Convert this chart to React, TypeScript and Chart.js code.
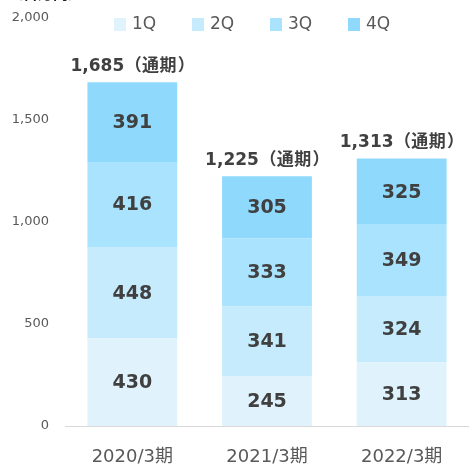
import React, { useEffect, useRef } from "react";
import { Chart, registerables } from "chart.js";

Chart.register(...registerables);

const categories = ["2020/3期", "2021/3期", "2022/3期"];
const seriesNames = ["1Q", "2Q", "3Q", "4Q"];
const q1 = [430, 245, 313];
const q2 = [448, 341, 324];
const q3 = [416, 333, 349];
const q4 = [391, 305, 325];
const totals = [1685, 1225, 1313];
const totalSuffix = "（通期）";
const unitLabel = "（百万円）";
const yTicks = [0, 500, 1000, 1500, 2000];

const colors = ["#E0F3FD", "#C6EBFD", "#A9E3FD", "#8FD9FD"];
const FONT = "'DejaVu Sans', 'Noto Sans CJK JP', sans-serif";
const CJK = "'Noto Sans CJK JP', sans-serif";

const fmt = (v: number) => v.toLocaleString("en-US");

const labelPlugin = {
  id: "labels",
  afterDatasetsDraw(chart: any) {
    const ctx = chart.ctx;
    ctx.save();
    ctx.fillStyle = "#404040";
    ctx.textAlign = "center";
    ctx.textBaseline = "middle";
    ctx.font = `bold 19px ${FONT}`;
    chart.data.datasets.forEach((ds: any, di: number) => {
      const meta = chart.getDatasetMeta(di);
      meta.data.forEach((bar: any, i: number) => {
        const y = (bar.y + bar.base) / 2;
        ctx.fillText(fmt(ds.data[i]), bar.x, y + 1);
      });
    });
    const yScale = chart.scales.y;
    const last = chart.getDatasetMeta(chart.data.datasets.length - 1);
    ctx.textBaseline = "alphabetic";
    const cell = 17.5;
    totals.forEach((t, i) => {
      const x = last.data[i].x;
      const base = yScale.getPixelForValue(t) - 11;
      ctx.font = `bold 17px ${FONT}`;
      const num = fmt(t);
      const w1 = ctx.measureText(num).width;
      const chars = Array.from(totalSuffix);
      const w2 = chars.length * cell;
      const start = x - (w1 + w2) / 2;
      ctx.textAlign = "left";
      ctx.fillText(num, start, base);
      ctx.font = `bold 17px ${CJK}`;
      chars.forEach((c, k) => {
        let cx = start + w1 + k * cell + cell / 2;
        if (c === "（") { ctx.textAlign = "right"; cx = start + w1 + (k + 1) * cell; }
        else if (c === "）") { ctx.textAlign = "left"; cx = start + w1 + k * cell + 1; }
        else ctx.textAlign = "center";
        ctx.fillText(c, cx, base);
      });
    });
    ctx.restore();
  },
  afterDraw(chart: any) {
    const ctx = chart.ctx;
    ctx.save();
    ctx.font = `17px ${FONT}`;
    ctx.textBaseline = "middle";
    ctx.textAlign = "left";
    const startX = 114;
    const step = 78;
    const cy = 24;
    seriesNames.forEach((n, i) => {
      const x = startX + i * step;
      ctx.fillStyle = colors[i];
      ctx.fillRect(x, cy - 6, 12, 13);
      ctx.fillStyle = "#595959";
      ctx.fillText(n, x + 18, cy + 1);
    });
    ctx.font = `bold 15px ${CJK}`;
    ctx.fillStyle = "#222222";
    ctx.textBaseline = "alphabetic";
    ctx.fillText(unitLabel, 8, -1);
    ctx.restore();
  },
};

export default function App() {
  const ref = useRef<HTMLCanvasElement | null>(null);
  useEffect(() => {
    if (!ref.current) return;
    const chart = new Chart(ref.current, {
      type: "bar",
      data: {
        labels: categories,
        datasets: [q1, q2, q3, q4].map((d, i) => ({
          label: seriesNames[i],
          data: d,
          backgroundColor: colors[i],
          borderWidth: 0,
          barPercentage: 0.667,
          categoryPercentage: 1,
        })),
      },
      options: {
        animation: false,
        responsive: false,
        maintainAspectRatio: false,
        layout: { padding: { top: 18, right: 0, bottom: 0, left: 0 } },
        plugins: {
          legend: { display: false },
          tooltip: { enabled: false },
        },
        scales: {
          x: {
            stacked: true,
            grid: { display: false, drawTicks: false },
            border: { display: true, color: "#D9D9D9", width: 1 },
            afterFit: (s: any) => {
              s.height = 41;
            },
            ticks: {
              color: "#595959",
              font: { family: FONT, size: 18 },
              padding: 21,
            },
          },
          y: {
            stacked: true,
            min: 0,
            max: 2000,
            afterBuildTicks: (s: any) => {
              s.ticks = yTicks.map((v) => ({ value: v }));
            },
            afterFit: (s: any) => {
              s.width = 65;
              s.paddingTop = 0;
              s.paddingBottom = 0;
            },
            grid: { display: false, drawTicks: false },
            border: { display: false },
            ticks: {
              color: "#595959",
              font: { family: FONT, size: 13 },
              padding: 16,
              callback: (v: any) => fmt(Number(v)),
            },
          },
        },
      },
      plugins: [labelPlugin],
    });
    return () => chart.destroy();
  }, []);
  return (
    <div style={{ position: "fixed", left: 0, top: 0, width: 469, height: 467, background: "#fff" }}>
      <canvas ref={ref} width={469} height={467} style={{ width: 469, height: 467 }} />
    </div>
  );
}
